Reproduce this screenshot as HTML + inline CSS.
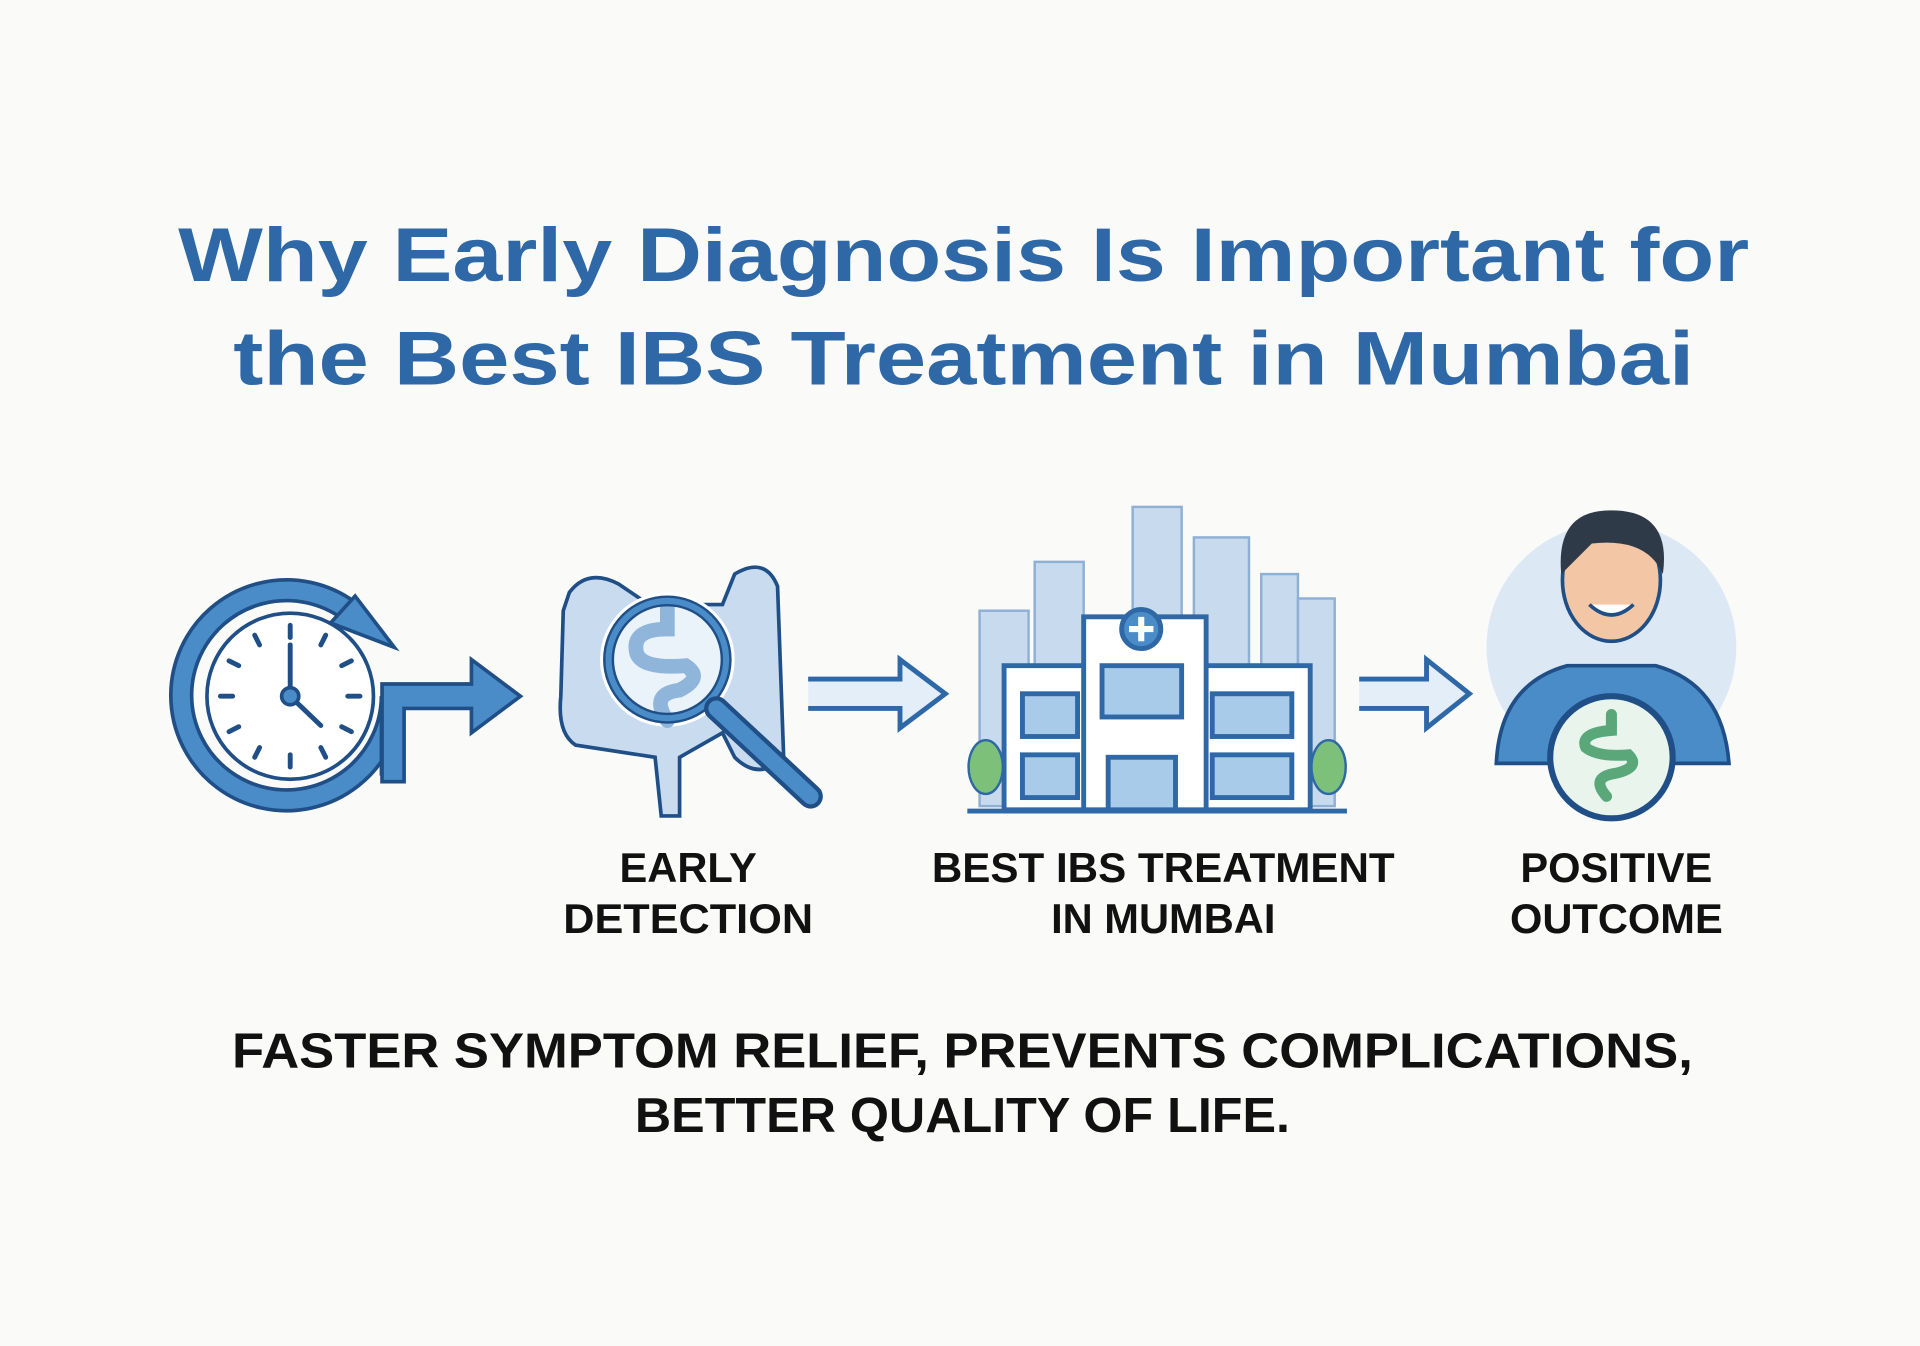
<!DOCTYPE html>
<html><head><meta charset="utf-8"><style>
html,body{margin:0;padding:0;background:#fafaf8;}
svg{display:block}
text{font-family:"Liberation Sans",sans-serif;font-weight:bold}
</style></head><body>
<svg width="1920" height="1346" viewBox="0 0 1568 1102" preserveAspectRatio="none" xmlns="http://www.w3.org/2000/svg">
<rect width="1568" height="1102" fill="#fafaf8"/>
<g fill="#2f68a6" font-size="62" text-anchor="middle">
<text x="787" y="230" textLength="1283" lengthAdjust="spacingAndGlyphs">Why Early Diagnosis Is Important for</text>
<text x="787" y="315" textLength="1193" lengthAdjust="spacingAndGlyphs">the Best IBS Treatment in Mumbai</text>
</g>
<!-- clock -->
<g stroke="#1f4f86" stroke-width="3">
<path d="M320 570 A86 86 0 1 1 285 500" fill="none" stroke="#1f4f86" stroke-width="20"/>
<path d="M320 570 A86 86 0 1 1 285 500" fill="none" stroke="#4a8cc8" stroke-width="14"/>
<circle cx="237" cy="570" r="68" fill="#fff"/>
<path d="M320 570 L320 635" stroke="#1f4f86" stroke-width="20" fill="none"/>
<path d="M312 560 L385 560 L385 540 L425 570 L385 600 L385 580 L330 580 L330 640 L312 640 Z" fill="#4a8cc8"/>
<path d="M270 510 L290 488 L322 530 Z" fill="#4a8cc8"/>
</g>
<g stroke="#1f4f86" stroke-width="4" stroke-linecap="round">
<line x1="237" y1="512" x2="237" y2="522"/><line x1="237" y1="618" x2="237" y2="628"/>
<line x1="180" y1="570" x2="190" y2="570"/><line x1="284" y1="570" x2="294" y2="570"/>
<line x1="208" y1="520" x2="212" y2="528"/><line x1="266" y1="520" x2="262" y2="528"/>
<line x1="208" y1="620" x2="212" y2="612"/><line x1="266" y1="620" x2="262" y2="612"/>
<line x1="187" y1="541" x2="195" y2="545"/><line x1="187" y1="599" x2="195" y2="595"/>
<line x1="287" y1="599" x2="279" y2="595"/><line x1="287" y1="541" x2="279" y2="545"/>
<line x1="237" y1="570" x2="237" y2="528"/><line x1="237" y1="570" x2="262" y2="594"/>
</g>
<circle cx="237" cy="570" r="7" fill="#4a8cc8" stroke="#1f4f86" stroke-width="3"/>
<!-- intestine -->
<path d="M465 485 Q480 465 505 478 L530 495 L590 495 L600 470 Q625 455 635 480 L640 620 Q620 640 600 620 L590 600 L555 620 L555 668 L540 668 L535 620 L470 610 Q455 600 458 570 L460 500 Z" fill="#c9dcef" stroke="#1f4f86" stroke-width="3"/>
<circle cx="545" cy="540" r="52" fill="#eaf2fa" stroke="#fff" stroke-width="6"/>
<path d="M545 495 L545 515 Q515 515 520 535 Q525 548 560 545 Q575 555 555 565 Q530 568 545 590" fill="none" stroke="#8fb5da" stroke-width="12" stroke-linecap="round"/>
<circle cx="545" cy="540" r="48" fill="none" stroke="#1f4f86" stroke-width="9"/>
<circle cx="545" cy="540" r="48" fill="none" stroke="#4a8cc8" stroke-width="5"/>
<line x1="585" y1="580" x2="662" y2="652" stroke="#1f4f86" stroke-width="20" stroke-linecap="round"/>
<line x1="585" y1="580" x2="662" y2="652" stroke="#4a8cc8" stroke-width="13" stroke-linecap="round"/>
<!-- arrow 2 -->
<path d="M660 556 L735 556 L735 540 L772 568 L735 596 L735 580 L660 580" fill="#e4eef8" stroke="#2f68a6" stroke-width="4"/>
<!-- building -->
<g fill="#c8dbee" stroke="#8db0d4" stroke-width="2">
<rect x="800" y="500" width="40" height="160"/><rect x="845" y="460" width="40" height="200"/>
<rect x="925" y="415" width="40" height="245"/><rect x="975" y="440" width="45" height="220"/>
<rect x="1030" y="470" width="30" height="190"/><rect x="1060" y="490" width="30" height="170"/>
</g>
<g stroke="#2f68a6" stroke-width="4" fill="#fff">
<rect x="820" y="545" width="250" height="118"/>
<rect x="885" y="505" width="100" height="158"/>
<circle cx="932" cy="515" r="16" fill="#4a8cc8"/>
<rect x="900" y="545" width="65" height="42" fill="#a9cbea"/>
<rect x="835" y="568" width="45" height="35" fill="#a9cbea"/><rect x="990" y="568" width="65" height="35" fill="#a9cbea"/>
<rect x="835" y="618" width="45" height="35" fill="#a9cbea"/><rect x="990" y="618" width="65" height="35" fill="#a9cbea"/>
<rect x="905" y="620" width="55" height="43" fill="#a9cbea"/>
</g>
<path d="M932 505 V525 M922 515 H942" stroke="#fff" stroke-width="5"/>
<line x1="790" y1="664" x2="1100" y2="664" stroke="#2f68a6" stroke-width="4"/>
<ellipse cx="805" cy="628" rx="14" ry="22" fill="#7cc07a" stroke="#2f68a6" stroke-width="2"/>
<ellipse cx="1085" cy="628" rx="14" ry="22" fill="#7cc07a" stroke="#2f68a6" stroke-width="2"/>
<!-- arrow 3 -->
<path d="M1110 556 L1165 556 L1165 540 L1200 568 L1165 596 L1165 580 L1110 580" fill="#e4eef8" stroke="#2f68a6" stroke-width="4"/>
<!-- person -->
<circle cx="1316" cy="530" r="102" fill="#dce9f5"/>
<path d="M1222 625 Q1225 560 1280 545 L1352 545 Q1407 560 1412 625 Z" fill="#4a8cc8" stroke="#1f4f86" stroke-width="3"/>
<ellipse cx="1316" cy="475" rx="40" ry="50" fill="#f3c7a6" stroke="#1f4f86" stroke-width="3"/>
<path d="M1275 470 Q1270 415 1320 418 Q1365 420 1358 470 Q1345 440 1300 445 Z" fill="#2e3a48"/>
<path d="M1298 495 Q1316 512 1334 495" fill="#fff" stroke="#1f4f86" stroke-width="3"/>
<circle cx="1316" cy="620" r="50" fill="#e8f4ec" stroke="#1f4f86" stroke-width="5"/>
<path d="M1316 585 V598 Q1290 600 1295 612 Q1305 620 1330 618 Q1340 628 1320 633 Q1298 636 1312 652" fill="none" stroke="#5aa87a" stroke-width="9" stroke-linecap="round"/>
<!-- labels -->
<g fill="#111" font-size="34" text-anchor="middle">
<text x="562" y="722">EARLY</text>
<text x="562" y="764" textLength="204" lengthAdjust="spacingAndGlyphs">DETECTION</text>
<text x="950" y="722" textLength="378" lengthAdjust="spacingAndGlyphs">BEST IBS TREATMENT</text>
<text x="950" y="764">IN MUMBAI</text>
<text x="1320" y="722">POSITIVE</text>
<text x="1320" y="764">OUTCOME</text>
</g>
<g fill="#111" font-size="40" text-anchor="middle">
<text x="786" y="874" textLength="1193" lengthAdjust="spacingAndGlyphs">FASTER SYMPTOM RELIEF, PREVENTS COMPLICATIONS,</text>
<text x="786" y="927" textLength="535" lengthAdjust="spacingAndGlyphs">BETTER QUALITY OF LIFE.</text>
</g>
</svg>
</body></html>
